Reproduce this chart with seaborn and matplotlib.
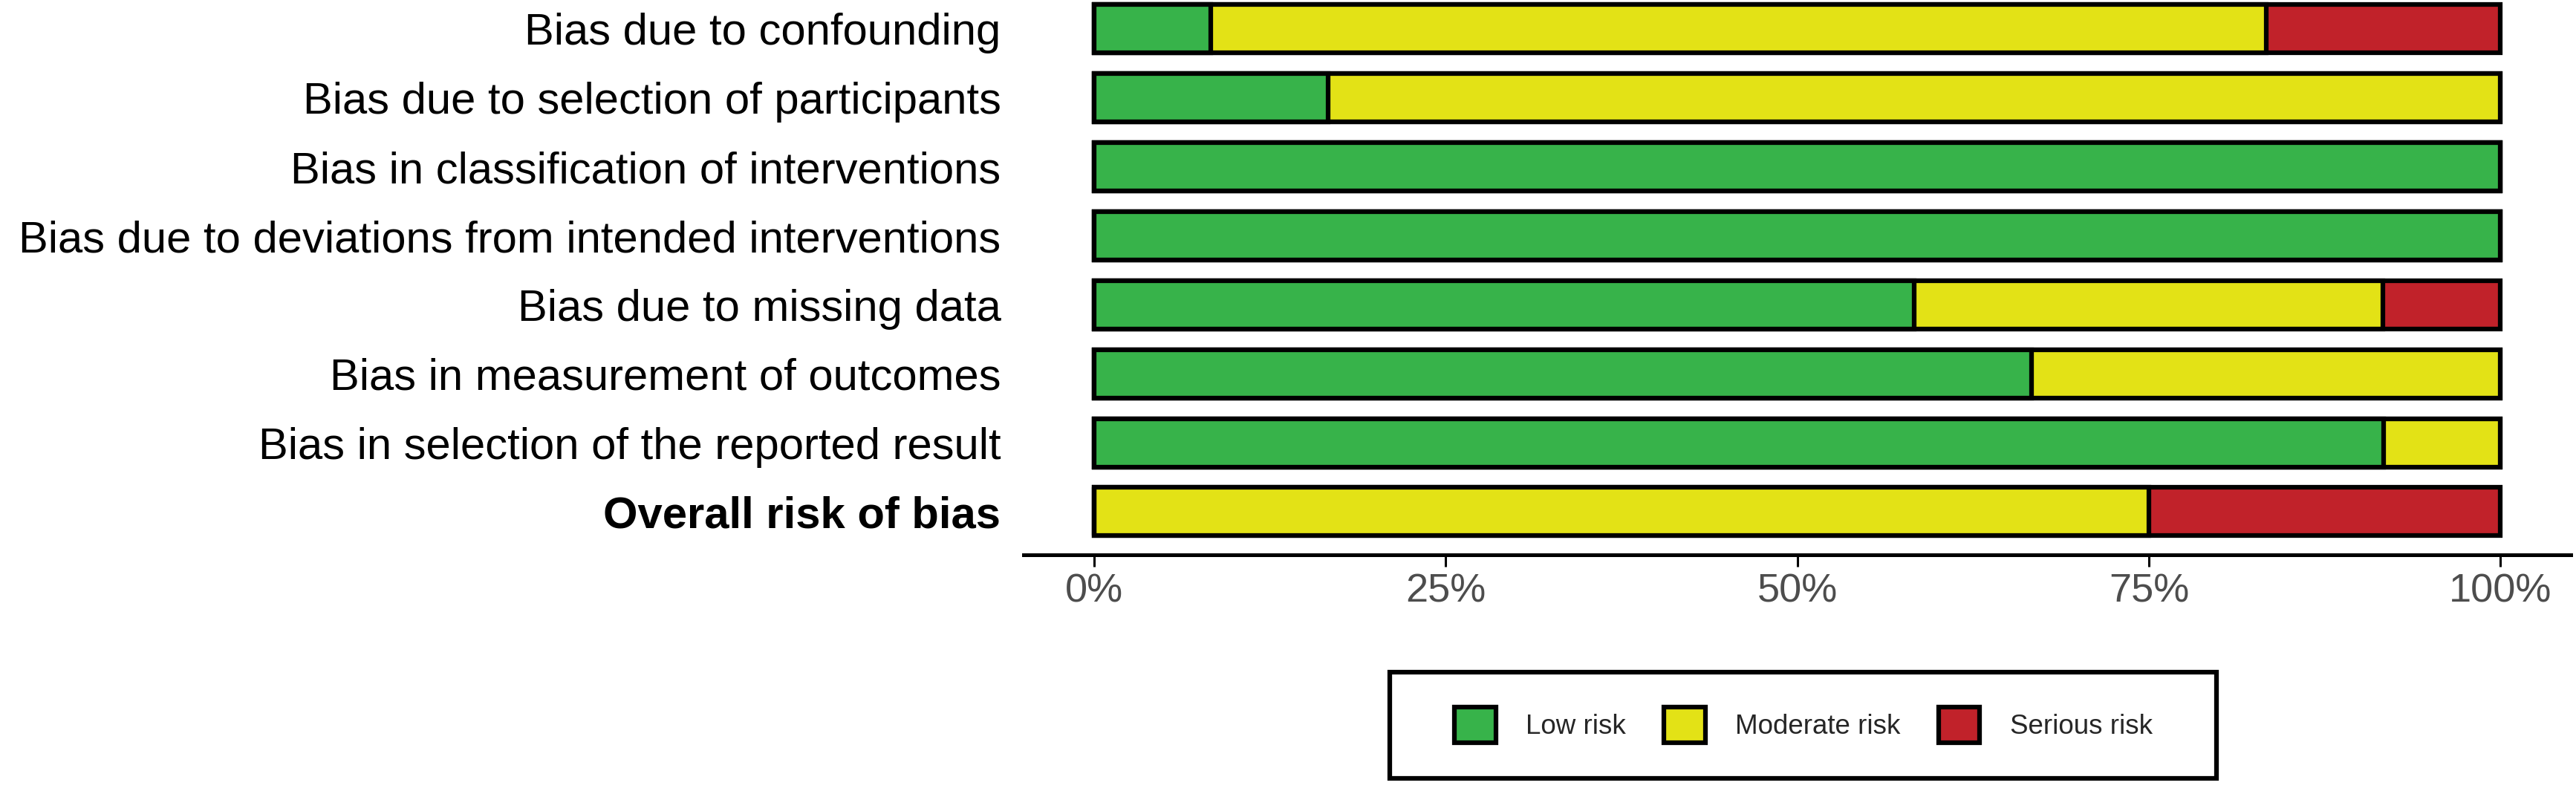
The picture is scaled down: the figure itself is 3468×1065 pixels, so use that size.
import matplotlib
matplotlib.use("Agg")
import matplotlib.pyplot as plt
import seaborn as sns
import pandas as pd
from matplotlib.patches import Patch, Rectangle

# ---------------- data ----------------
domains = [
    "Bias due to confounding",
    "Bias due to selection of participants",
    "Bias in classification of interventions",
    "Bias due to deviations from intended interventions",
    "Bias due to missing data",
    "Bias in measurement of outcomes",
    "Bias in selection of the reported result",
    "Overall risk of bias",
]
low_risk = [8.33, 16.67, 100.0, 100.0, 58.33, 66.67, 91.67, 0.0]
moderate_risk = [75.0, 83.33, 0.0, 0.0, 33.33, 33.33, 8.33, 75.0]
serious_risk = [16.67, 0.0, 0.0, 0.0, 8.33, 0.0, 0.0, 25.0]
risk_labels = ["Low risk", "Moderate risk", "Serious risk"]
tick_values = [0, 25, 50, 75, 100]
tick_labels = ["0%", "25%", "50%", "75%", "100%"]

colors = {"Low risk": "#37B34A", "Moderate risk": "#E3E216", "Serious risk": "#C1222A"}

df = pd.DataFrame({"domain": domains, "low": low_risk,
                   "moderate": moderate_risk, "serious": serious_risk})
df["cum_low"] = df["low"]
df["cum_mod"] = df["low"] + df["moderate"]
df["cum_ser"] = df["low"] + df["moderate"] + df["serious"]

# ---------------- figure ----------------
sns.set_theme(style="white")
plt.rcParams["font.family"] = ["Liberation Sans", "DejaVu Sans"]

W, H = 3468, 1065
fig = plt.figure(figsize=(W / 100, H / 100), dpi=100)
ax = fig.add_axes([1378 / W, 1 - 747 / H, (3461 - 1378) / W, 747 / H])

edge_lw = 4.5
for col, lvl in [("cum_ser", "Serious risk"), ("cum_mod", "Moderate risk"), ("cum_low", "Low risk")]:
    sns.barplot(data=df, x=col, y="domain", orient="h", color=colors[lvl],
                saturation=1, width=0.7, edgecolor="black", linewidth=edge_lw,
                errorbar=None, ax=ax)

ax.set_xlim(-5, 105)
ax.set_ylim(7.625, -0.42)
ax.set_xlabel("")
ax.set_ylabel("")
ax.set_xticks(tick_values)
ax.set_xticklabels(tick_labels)

for s in ["top", "right", "left"]:
    ax.spines[s].set_visible(False)
ax.spines["bottom"].set_linewidth(3.6)
ax.spines["bottom"].set_color("black")

ax.tick_params(axis="x", bottom=True, length=11.5, width=2.2, color="black",
               labelcolor="#4D4D4D", labelsize=39, pad=6)
ax.tick_params(axis="y", left=False, length=0, labelsize=43, labelcolor="black", pad=22)

for lbl in ax.get_yticklabels():
    if lbl.get_text() == "Overall risk of bias":
        lbl.set_fontweight("bold")

# ---------------- legend ----------------
handles = [Patch(facecolor=colors[l], edgecolor="black", linewidth=4.5) for l in risk_labels]
fig.legend(handles, risk_labels, loc="center", bbox_to_anchor=(2428 / W, 1 - 976 / H),
           ncol=3, frameon=False, fontsize=26.5, handlelength=1.5, handleheight=1.65,
           handletextpad=1.1, columnspacing=1.4)

fig.add_artist(Rectangle((1871 / W, 1 - 1048 / H), (2984 - 1871) / W, 143 / H,
                         transform=fig.transFigure, fill=False, edgecolor="black",
                         linewidth=4.5))

fig.savefig("out.png", dpi=100, facecolor="white")
